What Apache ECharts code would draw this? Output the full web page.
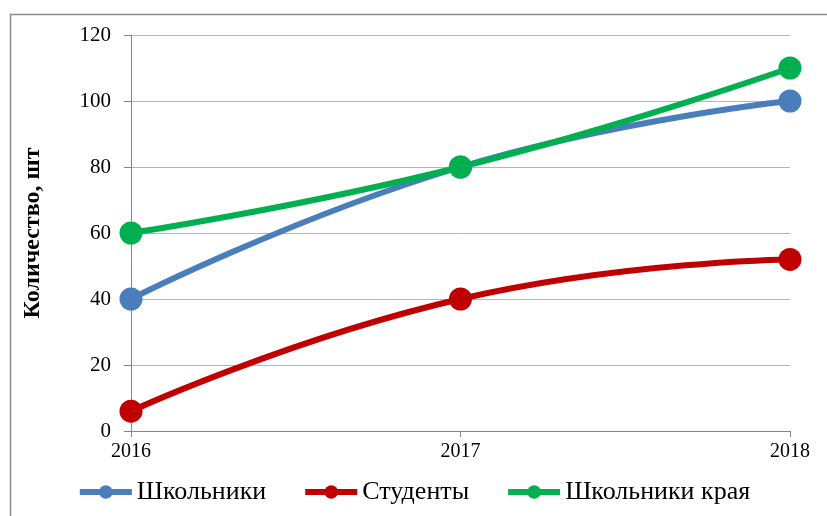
<!DOCTYPE html>
<html><head><meta charset="utf-8">
<script src="https://cdn.jsdelivr.net/npm/echarts@6/dist/echarts.min.js"></script>
<style>html,body{margin:0;padding:0;background:#fff}#c{width:827px;height:516px}</style>
</head><body><div id="c"></div>
<script>
const years = ['2016', '2017', '2018'];
const schoolNames = 'Школьники';
const studentNames = 'Студенты';
const regionNames = 'Школьники края';
const schoolValues = [40, 80, 100];
const studentValues = [6, 40, 52];
const regionValues = [60, 80, 110];
const yAxisTitle = 'Количество, шт';

const chart = echarts.init(document.getElementById('c'));
const font = 'Liberation Serif';
function mk(name, data, color) {
  return {
    name, type: 'line', data, smooth: true,
    symbol: 'circle', symbolSize: 23,
    lineStyle: { width: 6, color },
    itemStyle: { color },
    z: 3
  };
}
chart.setOption({
  animation: false,
  graphic: [{
    type: 'rect', shape: { x: 10.5, y: 14.5, width: 830, height: 520 },
    style: { fill: 'none', stroke: '#8c8c8c', lineWidth: 1.5 }, silent: true
  }],
  grid: { left: 131, right: 37, top: 35, bottom: 85 },
  legend: {
    bottom: 6, left: 'center', itemWidth: 52, itemHeight: 17, itemGap: 36,
    textStyle: { fontFamily: font, fontSize: 26, color: '#000' },
    lineStyle: { width: 6 },
    data: [schoolNames, studentNames, regionNames]
  },
  xAxis: {
    type: 'category', data: years, boundaryGap: false,
    axisLine: { lineStyle: { color: '#868686', width: 1 } },
    axisTick: { show: true, alignWithLabel: true, length: 6, lineStyle: { color: '#868686' } },
    axisLabel: { fontFamily: font, fontSize: 20, color: '#000', margin: 11 }
  },
  yAxis: {
    type: 'value', min: 0, max: 120, interval: 20,
    name: yAxisTitle, nameLocation: 'middle', nameGap: 86,
    nameTextStyle: { fontFamily: font, fontSize: 24, fontWeight: 'bold', color: '#000' },
    axisLine: { show: true, lineStyle: { color: '#868686', width: 1 } },
    axisTick: { show: true, length: 7, lineStyle: { color: '#868686' } },
    axisLabel: { fontFamily: font, fontSize: 21, color: '#000', margin: 20 },
    splitLine: { lineStyle: { color: '#b5b5b5', width: 1 } }
  },
  series: [
    mk(schoolNames, schoolValues, '#4a7ebb'),
    mk(studentNames, studentValues, '#c00000'),
    mk(regionNames, regionValues, '#00b050')
  ]
});
</script></body></html>
